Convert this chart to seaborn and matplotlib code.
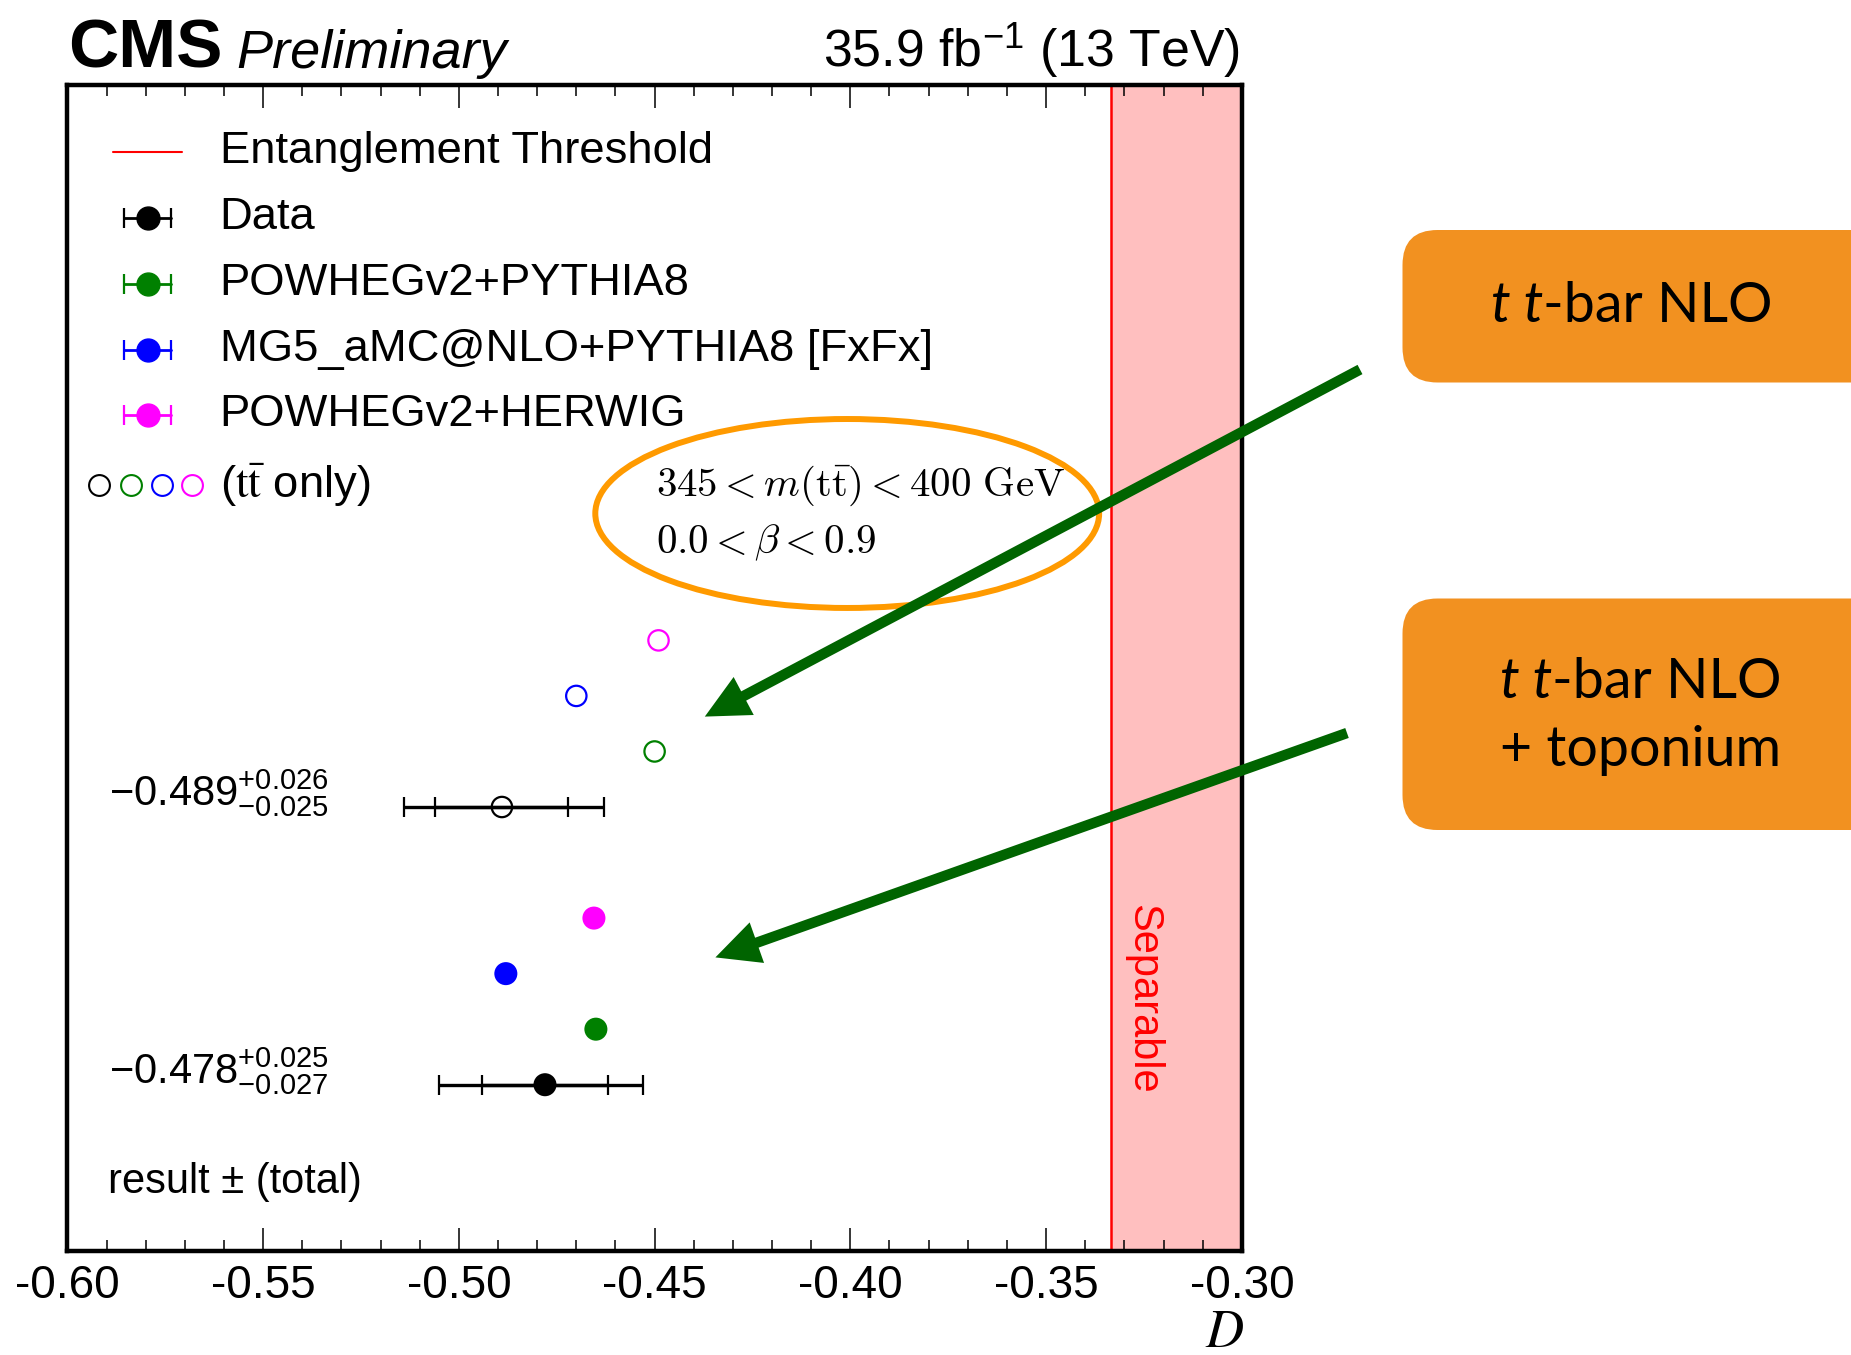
import matplotlib
matplotlib.use("Agg")
import matplotlib.pyplot as plt
import matplotlib.transforms as mtransforms
from matplotlib.patches import Ellipse, FancyArrow, FancyBboxPatch
from matplotlib.ticker import MultipleLocator, StrMethodFormatter
import numpy as np
import pandas as pd
import seaborn as sns

# ---------------- values ----------------
samples = ["Data", "POWHEGv2+PYTHIA8", "MG5_aMC@NLO+PYTHIA8 [FxFx]", "POWHEGv2+HERWIG"]
sample_colors = ["black", "green", "blue", "magenta"]

# D with toponium included (filled markers) and for tt-bar only (open markers)
D_toponium = [-0.478, -0.465, -0.488, -0.4655]
D_tt_only = [-0.489, -0.450, -0.470, -0.449]

# measured values: [with toponium, tt-bar only]
data_D = [-0.478, -0.489]
data_total_up = [0.025, 0.026]
data_total_down = [0.027, 0.025]
data_stat = [0.016, 0.017]
data_labels = [r"$\mathrm{-0.478}^{\mathrm{+0.025}}_{\mathrm{-0.027}}$",
               r"$\mathrm{-0.489}^{\mathrm{+0.026}}_{\mathrm{-0.025}}$"]

threshold = -1.0 / 3.0
x_range = (-0.60, -0.30)

# vertical slots of the two groups of points
rows_toponium = [3, 4, 5, 6]
rows_tt_only = [8, 9, 10, 11]
data_rows = [rows_toponium[0], rows_tt_only[0]]

# ---------------- style ----------------
sns.set_theme(style="ticks")
plt.rcParams.update({
    "font.family": ["Liberation Sans", "DejaVu Sans"],
    "mathtext.fontset": "custom",
    "mathtext.rm": "Liberation Sans",
    "mathtext.it": "Liberation Sans:italic",
    "mathtext.bf": "Liberation Sans:bold",
    "mathtext.sf": "Liberation Sans",
    "axes.unicode_minus": False,
    "axes.edgecolor": "black",
    "text.color": "black",
    "xtick.color": "black",
    "xtick.labelcolor": "black",
})

W, H, DPI = 18.51, 13.55, 100
fig = plt.figure(figsize=(W, H), dpi=DPI)
fig.patch.set_facecolor("white")
ax = fig.add_axes([0.0364, 0.0765, 0.6345, 0.8608])
ax.set_facecolor("white")
inch = fig.dpi_scale_trans
tA = ax.transAxes
tXaY = mtransforms.blended_transform_factory(ax.transAxes, ax.transData)

# separable region and entanglement threshold
ax.axvspan(threshold, x_range[1], color="#FFBFBF", lw=0, zorder=0)
ax.axvline(threshold, color="red", lw=1.8, zorder=1)
ax.text(-0.3253, 4.55, "Separable", rotation=270, color="red", fontsize=30,
        ha="center", va="center")

# data uncertainties: total (outer caps) and statistical (inner caps)
for d, y, up, dn, st in zip(data_D, data_rows, data_total_up, data_total_down, data_stat):
    ax.errorbar([d], [y], xerr=[[dn], [up]], fmt="none", ecolor="black",
                elinewidth=2.4, capsize=7.2, capthick=1.6, zorder=3)
    ax.errorbar([d], [y], xerr=[[st], [st]], fmt="none", ecolor="black",
                elinewidth=2.4, capsize=7.2, capthick=1.6, zorder=3)

points = pd.DataFrame({
    "D": D_toponium + D_tt_only,
    "row": rows_toponium + rows_tt_only,
    "sample": samples * 2,
    "mode": ["toponium"] * 4 + ["tt only"] * 4,
})
palette = dict(zip(samples, sample_colors))

sns.scatterplot(data=points[points["mode"] == "toponium"], x="D", y="row",
                hue="sample", palette=palette, s=275, linewidth=0,
                legend=False, ax=ax, zorder=5)
sns.scatterplot(data=points[points["mode"] == "tt only"], x="D", y="row",
                hue="sample", palette=palette, s=215, linewidth=1.6,
                legend=False, ax=ax, zorder=5)
open_pts = ax.collections[-1]
open_pts.set_edgecolors(open_pts.get_facecolors())
open_pts.set_facecolors("none")

# result labels
for lab, y in zip(data_labels, [3.25, 8.25]):
    ax.text(0.0354, y, lab, transform=tXaY, fontsize=30, ha="left", va="center")
ax.text(0.035, 1.24, "result \u00b1 (total)", transform=tXaY, fontsize=30,
        ha="left", va="center")

# phase-space annotation
ax.add_patch(Ellipse((0.664, 0.6326), 0.429, 0.162, transform=tA, fill=False,
                     ec="#FF9A00", lw=4.3, zorder=6))
ax.text(0.5012, 0.6562, r"$345 < m(\mathrm{t}\bar{\mathrm{t}}) < 400\ \mathrm{GeV}$",
        math_fontfamily="cm", fontsize=29.5, transform=tA, ha="left", va="center")
ax.text(0.5012, 0.6073, r"$0.0 < \beta < 0.9$",
        math_fontfamily="cm", fontsize=29.5, transform=tA, ha="left", va="center")

# legend
leg_rows = [0.9429, 0.8861, 0.8294, 0.7728, 0.7171]
leg_tt_row = 0.6567
leg_text_x = 0.1297
leg_size = 32.7
ax.plot([0.0389, 0.0976], [leg_rows[0]] * 2, color="red", lw=1.5, transform=tA)
ax.text(leg_text_x, leg_rows[0], "Entanglement Threshold", fontsize=leg_size,
        transform=tA, va="center")
for yy, name, col in zip(leg_rows[1:], samples, sample_colors):
    ax.plot([0.0483, 0.0883], [yy, yy], color=col, lw=2.0, transform=tA)
    ax.plot([0.0483, 0.0883], [yy, yy], ls="none", marker="|", ms=14, mew=1.6,
            color=col, transform=tA)
    ax.plot([0.0684], [yy], "o", ms=16.5, color=col, transform=tA)
    ax.text(leg_text_x, yy, name, fontsize=leg_size, transform=tA, va="center")
for xx, col in zip([0.0270, 0.0543, 0.0807, 0.1063], sample_colors):
    ax.plot([xx], [leg_tt_row], "o", mfc="none", mec=col, ms=15, mew=1.5, transform=tA)
ax.text(leg_text_x, leg_tt_row, r"($\mathrm{t\bar{t}}$ only)", math_fontfamily="stix",
        fontsize=leg_size, transform=tA, va="center")

# axes
ax.set_xlim(*x_range)
ax.set_ylim(0, 21)
ax.set_yticks([])
ax.set_xlabel("")
ax.set_ylabel("")
ax.xaxis.set_major_locator(MultipleLocator(0.05))
ax.xaxis.set_minor_locator(MultipleLocator(0.01))
ax.xaxis.set_major_formatter(StrMethodFormatter("{x:.2f}"))
ax.tick_params(axis="x", which="both", direction="in", top=True, bottom=True,
               color="black", labelcolor="black", width=1.1, labelsize=33, pad=9)
ax.tick_params(axis="x", which="major", length=16.5)
ax.tick_params(axis="x", which="minor", length=8)
for sp in ax.spines.values():
    sp.set_visible(True)
    sp.set_linewidth(3.2)
    sp.set_color("black")

fig.text(12.44, 0.08, r"$D$", math_fontfamily="stix", fontsize=38,
         ha="right", va="baseline", transform=inch)

# header
fig.text(0.685, (1355 - 68) / 100, "CMS", fontsize=50, fontweight="bold",
         va="baseline", transform=inch)
fig.text(2.36, (1355 - 68) / 100, "Preliminary", fontsize=39, style="italic",
         va="baseline", transform=inch)
fig.text(12.40, (1355 - 67) / 100, r"35.9 fb$^{-1}$ (13 TeV)", fontsize=37.4,
         ha="right", va="baseline", transform=inch)

# callout boxes
box_color = "#F29120"
for (y0, h) in [(9.725, 1.525), (5.25, 2.315)]:
    fig.add_artist(FancyBboxPatch((14.025, y0), 6.0, h,
                                  boxstyle="round,pad=0,rounding_size=0.35",
                                  transform=inch, fc=box_color, ec="none"))

renderer = fig.canvas.get_renderer()


def mixed_line(xc, y, parts, size):
    """Draw a centred line of text built from (string, style) runs."""
    runs = [fig.text(0, y, s, fontsize=size, family=["Lato", "DejaVu Sans"],
                     style=st, va="center", transform=inch) for s, st in parts]
    widths = [r.get_window_extent(renderer).width / DPI for r in runs]
    x = xc - sum(widths) / 2
    for r, w in zip(runs, widths):
        r.set_x(x)
        x += w


nlo_parts = [("t t", "italic"), ("-bar NLO", "normal")]
mixed_line(16.32, 10.48, nlo_parts, 40)
mixed_line(16.41, 6.73, nlo_parts, 40)
mixed_line(16.41, 6.05, [("+ toponium", "normal")], 40)

# arrows pointing at the two groups of predictions
arrow_color = "#006400"
for (x0, y0, x1, y1) in [(13.60, 9.855, 7.048, 6.384), (13.47, 6.22, 7.154, 3.976)]:
    fig.add_artist(FancyArrow(x0, y0, x1 - x0, y1 - y0, width=0.105,
                              head_width=0.43, head_length=0.44,
                              length_includes_head=True, transform=inch,
                              fc=arrow_color, ec="none", zorder=10))

fig.savefig("out.png", dpi=DPI, facecolor="white")
